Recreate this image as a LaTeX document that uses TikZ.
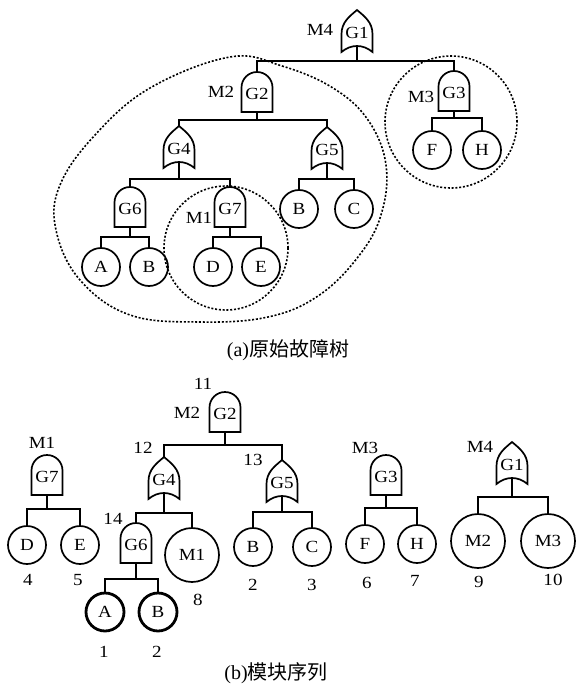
\documentclass[tikz,border=0pt]{standalone}
\usepackage{fontspec}
\setmainfont{Liberation Serif}
\newfontfamily\wide[FakeStretch=1.12]{Liberation Serif}
\newfontfamily\cjk{Noto Sans CJK SC}
\begin{document}
\begin{tikzpicture}[x=1pt,y=1pt,
  wire/.style={line width=1.7pt},
  gate/.style={line width=1.7pt, fill=white},
  gtext/.style={inner sep=0pt, font=\wide\fontsize{17}{19}\selectfont},
  leaf/.style={draw, circle, line width=1.7pt, minimum size=38pt, inner sep=0pt, font=\wide\fontsize{17}{19}\selectfont},
  bigleaf/.style={leaf, minimum size=54pt},
  boldleaf/.style={leaf, line width=2.8pt},
  lbl/.style={inner sep=0pt, font=\wide\fontsize{17}{19}\selectfont},
  dotc/.style={line width=1.6pt, dash pattern=on 2pt off 1.8pt},
  captext/.style={inner sep=0pt, font=\fontsize{20}{22}\selectfont},
  andgate/.pic={
    \draw[gate] (-15.5,0) -- (-15.5,24.5) arc[start angle=180,end angle=0,radius=15.5] -- (15.5,0) -- cycle;
    \node[gtext] (-lbl) at (0,18) {#1};
    \coordinate (-top) at (0,40);
    \coordinate (-bot) at (0,0);
  },
  orgate/.pic={
    \draw[gate] (-15.5,0) .. controls (-6,8) and (6,8) .. (15.5,0) -- (15.5,18)
       .. controls (15.5,30) and (7,36) .. (0,42)
       .. controls (-7,36) and (-15.5,30) .. (-15.5,18) -- cycle;
    \node[gtext] (-lbl) at (0,19) {#1};
    \coordinate (-top) at (0,42);
    \coordinate (-bot) at (0,6);
  }
]
\useasboundingbox (0,0) rectangle (578,-687);

% ---------------- (a) original fault tree ----------------
\draw[dotc] plot[smooth cycle, tension=0.65] coordinates {
  (230,-57) (282,-66) (333,-88) (368,-120) (386,-165) (381,-215) (358,-257)
  (318,-296) (268,-317) (200,-322) (130,-315) (80,-280) (56,-230) (60,-185)
  (95,-135) (150,-88)};
\draw[dotc] (451,-122) circle[radius=66];
\draw[dotc] (226,-248) circle[radius=62];

\pic (ga1) at (357,-52) {orgate=G1};
\pic (ga2) at (257,-112) {andgate=G2};
\pic (ga3) at (454,-111) {andgate=G3};
\pic (ga4) at (179,-168) {orgate=G4};
\pic (ga5) at (327,-169) {orgate=G5};
\pic (ga6) at (130,-227) {andgate=G6};
\pic (ga7) at (230,-227) {andgate=G7};

\node[leaf] (aA) at (101,-267) {A};
\node[leaf] (aB) at (149,-267) {B};
\node[leaf] (aD) at (213,-267) {D};
\node[leaf] (aE) at (261,-267) {E};
\node[leaf] (aB2) at (299,-209) {B};
\node[leaf] (aC) at (354,-209) {C};
\node[leaf] (aF) at (432,-150) {F};
\node[leaf] (aH) at (482,-150) {H};

\draw[wire] (ga1-bot) -- (357,-61) coordinate (ja1);
\draw[wire] (ga2-top) |- (ja1) -| (ga3-top);
\draw[wire] (ga2-bot) -- (257,-120) coordinate (ja2);
\draw[wire] (ga4-top) |- (ja2) -| (ga5-top);
\draw[wire] (ga4-bot) -- (179,-179) coordinate (ja4);
\draw[wire] (ga6-top) |- (ja4) -| (ga7-top);
\draw[wire] (ga5-bot) -- (327,-179) coordinate (ja5);
\draw[wire] (aB2.north) |- (ja5) -| (aC.north);
\draw[wire] (ga6-bot) -- (130,-237) coordinate (ja6);
\draw[wire] (aA.north) |- (ja6) -| (aB.north);
\draw[wire] (ga7-bot) -- (230,-237) coordinate (ja7);
\draw[wire] (aD.north) |- (ja7) -| (aE.north);
\draw[wire] (ga3-bot) -- (454,-118) coordinate (ja3);
\draw[wire] (aF.north) |- (ja3) -| (aH.north);

\node[lbl] (la4) at (320,-30) {M4};
\node[lbl] (la2) at (221,-92) {M2};
\node[lbl] (la3) at (421,-97) {M3};
\node[lbl] (la1) at (199,-218) {M1};

\node[captext] (capa) at (288,-350) {(a)\cjk 原始故障树};

% ---------------- (b) module sequence ----------------
\pic (gb2) at (225,-432) {andgate=G2};
\pic (gb4) at (164,-499) {orgate=G4};
\pic (gb5) at (282,-502) {orgate=G5};
\pic (gb6) at (136,-563) {andgate=G6};
\pic (gb7) at (47,-495) {andgate=G7};
\pic (gb3) at (386,-495) {andgate=G3};
\pic (gb1) at (512,-484) {orgate=G1};

\node[bigleaf] (bM1) at (192,-555) {M1};
\node[boldleaf] (bA) at (105,-612) {A};
\node[boldleaf] (bB) at (158,-612) {B};
\node[leaf] (bD) at (27,-545) {D};
\node[leaf] (bE) at (80,-545) {E};
\node[leaf] (bB2) at (253,-547) {B};
\node[leaf] (bC) at (312,-547) {C};
\node[leaf] (bF) at (365,-544) {F};
\node[leaf] (bH) at (417,-544) {H};
\node[bigleaf] (bM2) at (478,-541) {M2};
\node[bigleaf] (bM3) at (548,-541) {M3};

\draw[wire] (gb2-bot) -- (225,-445) coordinate (jb2);
\draw[wire] (gb4-top) |- (jb2) -| (gb5-top);
\draw[wire] (gb4-bot) -- (164,-513) coordinate (jb4);
\draw[wire] (gb6-top) |- (jb4) -| (bM1.north);
\draw[wire] (gb6-bot) -- (136,-579) coordinate (jb6);
\draw[wire] (bA.north) |- (jb6) -| (bB.north);
\draw[wire] (gb5-bot) -- (282,-512) coordinate (jb5);
\draw[wire] (bB2.north) |- (jb5) -| (bC.north);
\draw[wire] (gb7-bot) -- (47,-509) coordinate (jb7);
\draw[wire] (bD.north) |- (jb7) -| (bE.north);
\draw[wire] (gb3-bot) -- (386,-508) coordinate (jb3);
\draw[wire] (bF.north) |- (jb3) -| (bH.north);
\draw[wire] (gb1-bot) -- (512,-497) coordinate (jb1);
\draw[wire] (bM2.north) |- (jb1) -| (bM3.north);

\node[lbl] (lb11) at (203,-384) {11};
\node[lbl] (lbm2) at (187,-413) {M2};
\node[lbl] (lb12) at (143,-448) {12};
\node[lbl] (lb13) at (253,-460) {13};
\node[lbl] (lb14) at (113,-519) {14};
\node[lbl] (lbm1) at (42,-443) {M1};
\node[lbl] (lbm3) at (365,-448) {M3};
\node[lbl] (lbm4) at (480,-447) {M4};
\node[lbl] (n4) at (28,-580) {4};
\node[lbl] (n5) at (78,-580) {5};
\node[lbl] (n8) at (198,-600) {8};
\node[lbl] (n1) at (104,-652) {1};
\node[lbl] (n2) at (157,-652) {2};
\node[lbl] (n2b) at (253,-585) {2};
\node[lbl] (n3) at (312,-585) {3};
\node[lbl] (n6) at (367,-583) {6};
\node[lbl] (n7) at (415,-581) {7};
\node[lbl] (n9) at (479,-582) {9};
\node[lbl] (n10) at (553,-580) {10};

\node[captext] (capb) at (276,-673) {(b)\cjk 模块序列};
\end{tikzpicture}
\end{document}
